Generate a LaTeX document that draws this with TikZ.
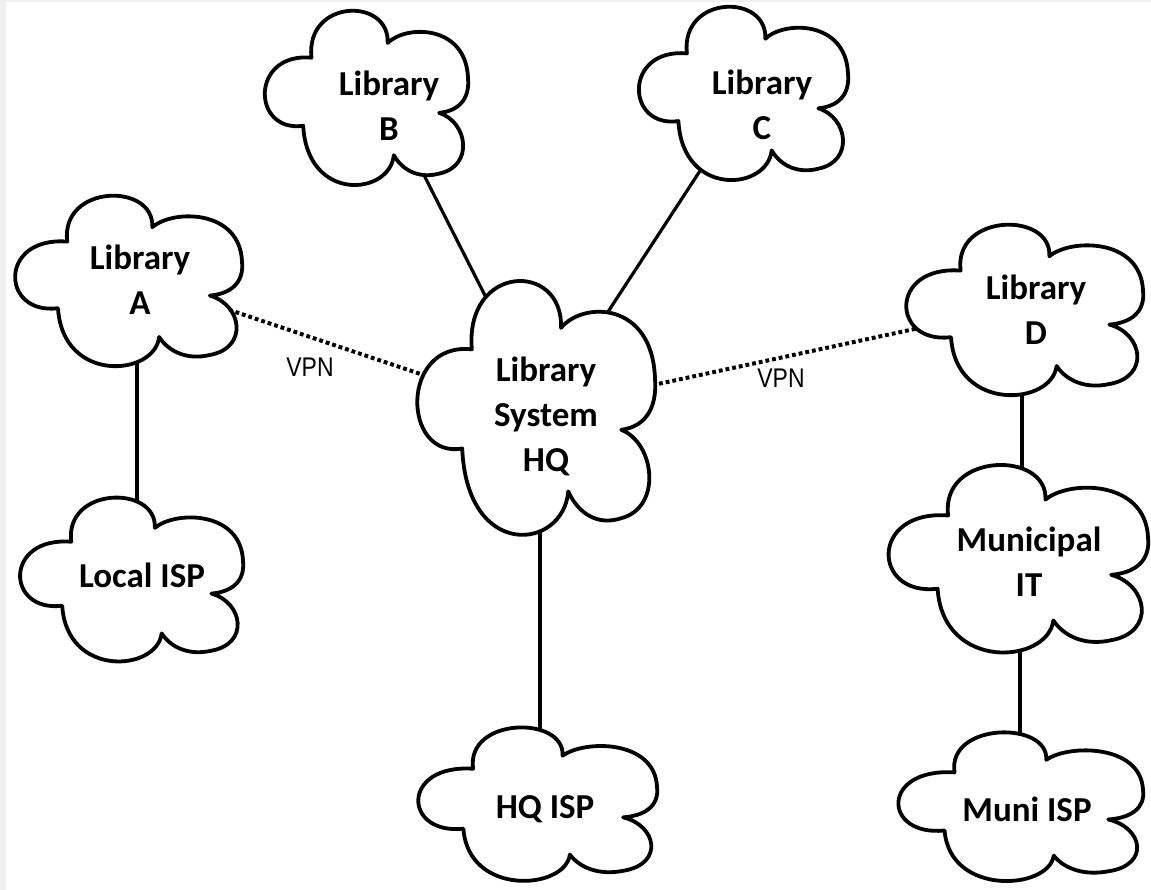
\documentclass[tikz,border=0pt]{standalone}
\usepackage{fontspec}
\setmainfont{Carlito}
\newfontfamily\vpnfont{Liberation Sans}
\usetikzlibrary{calc}
\pgfdeclarelayer{background}
\pgfsetlayers{background,main}
\newcommand\drawcloud[4]{%
  \begin{scope}[shift={(#1,#2)},xscale=#3,yscale=#4]
    \path[cloudline] (0.24,0.27)
      .. controls (0.21,-0.05) and (0.62,-0.06) .. (0.61,0.19)
      .. controls (0.70,0.09) and (0.99,0.09) .. (1.00,0.38)
      .. controls (1.01,0.50) and (0.95,0.56) .. (0.86,0.57)
      .. controls (1.00,0.62) and (1.03,0.86) .. (0.86,0.90)
      .. controls (0.76,0.93) and (0.68,0.88) .. (0.64,0.80)
      .. controls (0.62,1.02) and (0.22,1.06) .. (0.20,0.64)
      .. controls (-0.05,0.68) and (-0.06,0.24) .. (0.24,0.27) -- cycle;
  \end{scope}}
\begin{document}
\begin{tikzpicture}[x=1pt,y=-1pt,
  cloudline/.style={draw=black, fill=white, line width=3.8pt, line join=round},
  lbl/.style={font=\fontsize{35}{45}\selectfont\bfseries, align=center, inner sep=0pt},
  link/.style={line width=3.2pt},
  vpnlink/.style={line width=4pt, dash pattern=on 3.8pt off 3pt},
  vpnlbl/.style={font=\vpnfont\fontsize{27}{30}\selectfont, inner sep=0pt}]
\useasboundingbox (0,0) rectangle (1151,890);
\fill[black!6] (0,0) rectangle (6,890);
\fill[black!6] (0,0) rectangle (1151,2);
% clouds
\drawcloud{12}{193}{230}{180}
\drawcloud{262}{8}{206}{184}
\drawcloud{636}{4}{212}{183}
\drawcloud{903}{222}{240}{180}
\drawcloud{414}{277}{241}{268}
\drawcloud{17}{495}{226}{173}
\drawcloud{885}{462}{263}{198}
\drawcloud{415}{725}{242}{162}
\drawcloud{895}{730}{248}{157}
% labels
\node[lbl] (A) at (140,280) {Library\\A};
\node[lbl] (B) at (389,106) {Library\\B};
\node[lbl] (C) at (762,105) {Library\\C};
\node[lbl] (D) at (1036,310) {Library\\D};
\node[lbl] (HQ) at (546,416) {Library\\System\\HQ};
\node[lbl] (LISP) at (142,575) {Local ISP};
\node[lbl] (MIT) at (1029,562) {Municipal\\IT};
\node[lbl] (HQISP) at (545,809) {HQ ISP};
\node[lbl] (MISP) at (1027,809) {Muni ISP};
\node[vpnlbl] (vpn1) at (310,367) {\scalebox{0.85}[1]{VPN}};
\node[vpnlbl] (vpn2) at (781,378) {\scalebox{0.85}[1]{VPN}};
% connectors
\begin{pgfonlayer}{background}
\draw[link] ($(A)+(-3,0)$) -- ($(LISP)+(-5,0)$);
\draw[link] (B) -- (HQ);
\draw[link] ($(C)+(-19,0)$) -- ($(HQ)+(-6,0)$);
\draw[link] ($(HQ)+(-6,0)$) -- ($(HQISP)+(-5,0)$);
\draw[link] ($(D)+(-14,0)$) -- ($(MIT)+(-7,0)$);
\draw[link] ($(MIT)+(-9,0)$) -- ($(MISP)+(-7,0)$);
\draw[vpnlink] (A) -- (HQ);
\draw[vpnlink] ($(HQ)+(0,-8)$) -- ($(D)+(0,-7)$);
\end{pgfonlayer}
\end{tikzpicture}
\end{document}
